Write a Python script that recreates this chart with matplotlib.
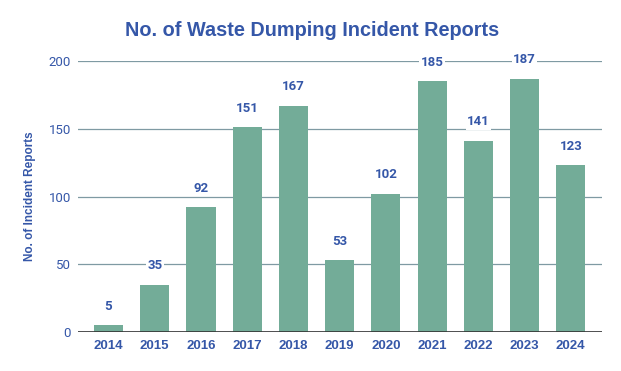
import matplotlib
matplotlib.use('Agg')
import matplotlib.pyplot as plt

years = ["2014", "2015", "2016", "2017", "2018", "2019", "2020", "2021", "2022", "2023", "2024"]
reports = [5, 35, 92, 151, 167, 53, 102, 185, 141, 187, 123]
y_ticks = [0, 50, 100, 150, 200]

blue = "#3557a8"
bar_color = "#73ac98"
arial = ['Liberation Sans', 'DejaVu Sans']

plt.rcParams['font.family'] = ['Roboto', 'Liberation Sans', 'DejaVu Sans']

fig = plt.figure(figsize=(6.21, 3.71), dpi=100)
ax = fig.add_axes([0.1256, 0.105, 0.8434, 0.7306])

x = list(range(len(years)))
ax.bar(x, reports, width=0.63, color=bar_color, zorder=3)
for xi, v in zip(x, reports):
    ax.annotate(str(v), (xi, v), xytext=(0, 13.7), textcoords='offset points',
                ha='center', va='center', color=blue, fontsize=9.5,
                fontweight='bold', zorder=5,
                bbox=dict(boxstyle='square,pad=0.1', facecolor='white',
                          edgecolor='none'))

ax.set_xlim(-0.66, len(years) - 1 + 0.67)
ax.set_ylim(0, 200)
ax.set_yticks(y_ticks)
ax.set_xticks(x)
ax.set_xticklabels(years, fontweight='bold', family=arial)
ax.tick_params(axis='x', length=0, pad=6, colors=blue, labelsize=9.5)
ax.tick_params(axis='y', length=0, pad=5, colors=blue, labelsize=9.5)
ax.grid(axis='y', color='#7f9aa3', linewidth=0.9, zorder=0)
ax.axhline(0, color='#333333', linewidth=1.2, zorder=4)
for s in ax.spines.values():
    s.set_visible(False)

ax.set_ylabel("No. of Incident Reports", color=blue, fontsize=8.5,
              fontweight='bold', labelpad=9, family=arial)
fig.text(0.502, 0.918, "No. of Waste Dumping Incident Reports", ha='center',
         va='center', color=blue, fontsize=14.3, fontweight='bold',
         family=arial)

fig.savefig("out.png", dpi=100, facecolor='white')
